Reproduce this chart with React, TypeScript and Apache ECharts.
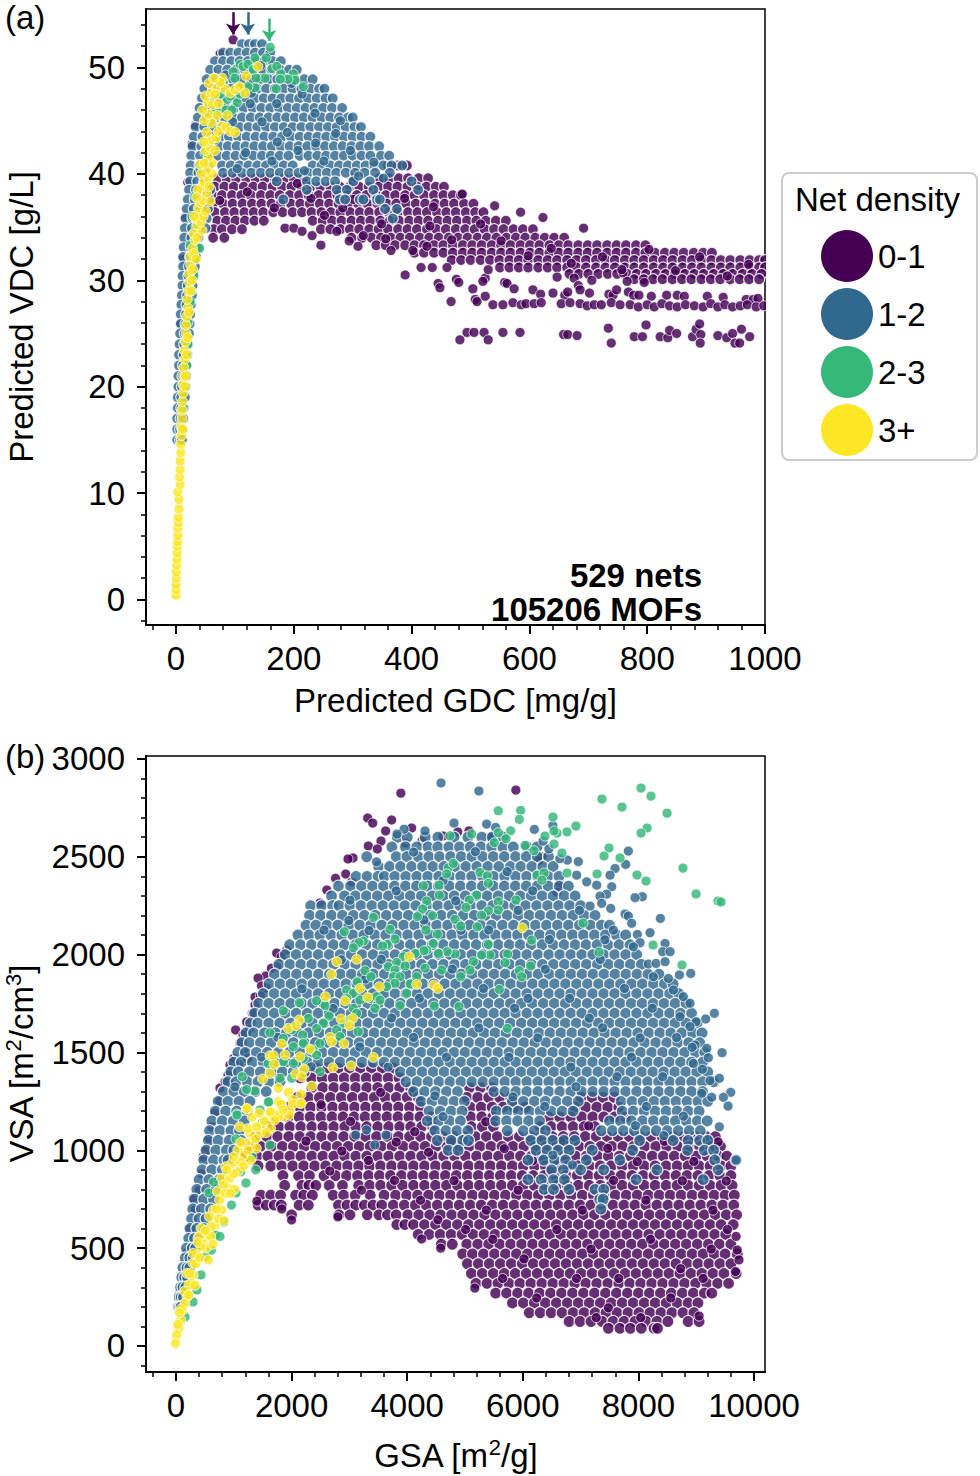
// App.tsx — predicted VDC vs GDC and VSA vs GSA scatter, coloured by net density
import { useEffect, useRef } from "react";
import * as echarts from "echarts";

const FONT = "Liberation Sans, Arial, sans-serif";
const PURPLE = "#440154";
const BLUE = "#31688e";
const GREEN = "#35b779";
const YELLOW = "#fde725";
const NETS = ["0-1", "1-2", "2-3", "3+"];

const xTicksA = [0, 200, 400, 600, 800, 1000];
const yTicksA = [0, 10, 20, 30, 40, 50];
const xTicksB = [0, 2000, 4000, 6000, 8000, 10000];
const yTicksB = [0, 500, 1000, 1500, 2000, 2500, 3000];
const xMinorA = [-40, 40, 80, 120, 160, 240, 280, 320, 360, 440, 480, 520, 560, 640, 680, 720, 760, 840, 880, 920, 960];
const yMinorA = [-2, 2, 4, 6, 8, 12, 14, 16, 18, 22, 24, 26, 28, 32, 34, 36, 38, 42, 44, 46, 48, 52, 54];
const xMinorB = [-400, 400, 800, 1200, 1600, 2400, 2800, 3200, 3600, 4400, 4800, 5200, 5600, 6400, 6800, 7200, 7600, 8400, 8800, 9200, 9600];
const yMinorB = [-100, 100, 200, 300, 400, 600, 700, 800, 900, 1100, 1200, 1300, 1400, 1600, 1700, 1800, 1900, 2100, 2200, 2300, 2400, 2600, 2700, 2800, 2900];

// rows are [y, x, x, x, ...]; pairs are [x, y]
const purpleRowsA = [
  [40.8, 360, 376, 392],
  [39.6, 70, 86, 102, 119, 135, 151, 168, 184, 200, 216, 300, 345, 362, 378, 394, 412, 428],
  [38.8, 66, 82, 98, 115, 131, 147, 164, 180, 196, 213, 229, 245, 262, 278, 295, 311, 327, 344, 360, 376, 393, 409, 425, 441, 455],
  [38.0, 62, 78, 95, 111, 127, 144, 160, 176, 193, 209, 225, 242, 258, 274, 291, 307, 323, 340, 356, 372, 389, 405, 421, 438, 454, 470, 484],
  [37.2, 63, 80, 96, 113, 129, 145, 162, 178, 195, 211, 227, 244, 260, 276, 293, 309, 325, 342, 358, 374, 391, 407, 423, 440, 456, 472, 489, 505],
  [36.4, 66, 83, 99, 116, 132, 148, 165, 181, 198, 214, 230, 247, 263, 279, 296, 312, 328, 345, 361, 377, 394, 410, 426, 443, 459, 475, 492, 508, 522],
  [35.6, 70, 85, 101, 117, 133, 149, 232, 249, 265, 281, 298, 314, 330, 347, 363, 379, 396, 412, 428, 445, 461, 477, 494, 510, 526, 543, 560],
  [34.8, 64, 78, 95, 112, 246, 262, 279, 295, 311, 328, 344, 360, 377, 393, 409, 426, 442, 458, 475, 491, 507, 524, 540, 556, 573, 589, 606],
  [34.0, 63, 82, 298, 316, 332, 348, 365, 381, 397, 414, 430, 446, 463, 479, 495, 512, 528, 544, 561, 577, 593, 610, 626, 642, 659],
  [33.3, 340, 356, 372, 389, 405, 421, 438, 454, 470, 487, 503, 519, 536, 552, 568, 585, 601, 617, 634, 650, 666, 683, 699, 715, 732, 748, 764, 781, 797],
  [32.6, 405, 421, 438, 454, 470, 487, 503, 519, 536, 552, 568, 585, 601, 617, 634, 650, 666, 683, 699, 715, 732, 748, 764, 781, 797, 813, 830, 846, 862, 879, 895, 910],
  [31.9, 468, 484, 500, 517, 533, 549, 566, 582, 598, 615, 631, 647, 664, 680, 696, 713, 729, 745, 762, 778, 794, 811, 827, 843, 860, 876, 892, 909, 925, 941, 958, 974, 990, 1000],
  [31.2, 550, 566, 582, 598, 615, 631, 647, 664, 680, 696, 713, 729, 745, 762, 778, 794, 811, 827, 843, 860, 876, 892, 909, 925, 941, 958, 974, 990, 1000],
  [30.6, 668, 684, 700, 717, 733, 749, 766, 782, 798, 815, 831, 847, 864, 880, 896, 913, 929, 945, 962, 978, 994],
  [30.1, 778, 794, 810, 826, 843, 859, 875, 892, 908, 924, 941, 957, 973, 990],
];
const purplePairsA = [
  [97, 52.6], [75, 51.3], [33, 44.6], [27, 42.8], [20, 39.2], [16, 36], [12, 32], [8, 26], [185, 34.9], [200, 34.9], [214, 34.6], [231, 34.2],
  [246, 33.3], [273, 34.6], [294, 33.7], [309, 33.2], [318, 34.2], [365, 32.8], [402, 32.8], [426, 33.2], [623, 35.9], [692, 34.9], [585, 36.4],
  [541, 37], [486, 38.1], [389, 30.5], [416, 31.2], [435, 31.2], [460, 31.2], [445, 29.7], [448, 29.3], [476, 30.1], [480, 29.8], [504, 29.2], [525, 30.2],
  [521, 29.9], [530, 31], [558, 29.8], [562, 29.7], [574, 29.2], [647, 30.3], [676, 30.2], [683, 29.5], [686, 29.1], [706, 30], [759, 30.7], [766, 29.9], [795, 29.8],
  [606, 29.1], [619, 28.7], [640, 28.8], [660, 28.6], [665, 28.9], [702, 28.8], [735, 28.7], [742, 28.6], [748, 29.1], [768, 28.9], [777, 28.6], [786, 28.6],
  [807, 28.5], [833, 28.6], [851, 28.6], [863, 28.5], [902, 28.5], [929, 28.4], [968, 28.2], [980, 28.2], [988, 28.3],
  [467, 28], [508, 28.2], [511, 28], [525, 28.5], [538, 27.7], [555, 27.7], [572, 27.9], [586, 27.7], [594, 27.8], [608, 27.8], [620, 27.9], [654, 27.8], [669, 27.9],
  [686, 27.8], [698, 27.6], [710, 27.7], [722, 27.7], [739, 27.9], [754, 27.7], [771, 27.7], [785, 27.5], [800, 27.7], [812, 27.5], [825, 27.8], [838, 27.6], [851, 27.5],
  [865, 27.7], [880, 27.6], [895, 27.5], [908, 27.8], [920, 27.5], [932, 27.7], [945, 27.5], [958, 27.6], [970, 27.7], [985, 27.5], [998, 27.6],
  [482, 24.4], [494, 25.1], [506, 25.1], [523, 25.1], [530, 24.4], [555, 25.1], [584, 25.1], [658, 24.9], [665, 24.9], [681, 24.8], [734, 25.5], [739, 24.1], [778, 24.7],
  [792, 24.7], [798, 25.8], [822, 24.7], [835, 24.6], [838, 25.3], [850, 25], [877, 24.7], [883, 25.4], [889, 25.9], [891, 24.9], [890, 24.1], [920, 24.8], [935, 24.6],
  [945, 25], [960, 25.4], [949, 24.1], [957, 24.1], [974, 24.7],
  [74, 37.5], [121, 38.3], [167, 36.8], [206, 39.1], [252, 36.1], [301, 37.6], [349, 35.3], [388, 37.7], [431, 35.1], [468, 33.8], [517, 35.3], [552, 33.7], [598, 32.3],
  [637, 33], [671, 31.6], [724, 32.2], [757, 31], [803, 32.9], [848, 30.9], [889, 32.2], [936, 30.4], [972, 31.5], [437, 36.9], [356, 33.9], [283, 36.8], [229, 37.7],
];
const blueRowsA = [
  [52.2, 112, 124, 134, 146],
  [51.4, 80, 92, 106, 120, 134, 148, 160],
  [50.6, 66, 80, 94, 108, 122, 136, 150, 164, 178],
  [49.8, 58, 72, 87, 102, 117, 132, 147, 162, 177, 192, 205],
  [48.9, 52, 67, 82, 97, 112, 127, 142, 157, 172, 187, 202, 218, 232],
  [48.0, 48, 63, 78, 93, 108, 123, 138, 153, 168, 183, 198, 213, 228, 243, 252],
  [47.1, 44, 59, 74, 89, 104, 119, 134, 149, 164, 179, 194, 209, 224, 239, 254, 266],
  [46.2, 40, 55, 70, 85, 100, 115, 130, 145, 160, 175, 190, 205, 220, 235, 250, 265, 282],
  [45.3, 37, 52, 67, 82, 97, 112, 127, 142, 157, 172, 187, 202, 217, 232, 247, 262, 277, 292, 300],
  [44.4, 33, 48, 63, 78, 93, 108, 123, 138, 153, 168, 183, 198, 213, 228, 243, 258, 273, 288, 303, 314],
  [43.5, 30, 45, 60, 75, 90, 105, 120, 135, 150, 165, 180, 195, 210, 225, 240, 255, 270, 285, 300, 315, 330],
  [42.6, 28, 43, 58, 73, 88, 103, 118, 133, 148, 163, 178, 193, 208, 223, 238, 253, 268, 283, 298, 313, 328, 345],
  [41.7, 26, 41, 56, 71, 86, 101, 116, 131, 146, 161, 176, 191, 210, 225, 240, 255, 270, 285, 300, 315, 330, 348, 362],
  [40.8, 25, 40, 55, 78, 93, 108, 123, 138, 153, 168, 183, 198, 232, 247, 262, 277, 292, 307, 322, 337, 352, 366, 384],
  [40.1, 24, 38, 50, 80, 96, 112, 128, 144, 160, 176, 192, 208, 224, 240, 256, 272, 288, 304, 320, 338, 363],
  [39.3, 24, 36, 48, 171, 222, 238, 254, 270, 301, 329, 400],
  [38.5, 22, 34, 46, 58, 222, 273, 290, 335, 411],
  [37.6, 20, 32, 44, 56, 182, 278, 287, 312, 318, 341, 346],
  [36.7, 18, 30, 42, 54, 355, 375],
  [35.8, 16, 28, 40, 52, 368],
  [34.9, 15, 27, 39, 50],
  [34.0, 14, 26, 38],
  [33.1, 13, 25, 37],
  [32.2, 12, 24, 34],
  [31.3, 12, 22, 32],
  [30.4, 11, 21, 30],
  [29.5, 11, 20, 28],
  [28.6, 10, 19, 27],
  [27.7, 9, 18, 25],
  [26.8, 8, 17, 24],
  [25.9, 8, 16, 23],
  [25, 7, 15, 22],
  [24, 6, 14, 20],
  [23, 5, 13, 19],
  [22, 5, 12, 18],
  [21, 4, 11, 17],
  [20, 4, 10, 16],
  [19, 3, 9, 15],
  [18, 3, 9, 13],
  [17, 2, 8, 12],
  [16, 2, 7, 11],
  [15, 2, 7, 10],
];
const bluePairsA = [
  [84, 49.3], [128, 47.6], [171, 46.6], [214, 47.5], [96, 44.9], [146, 44.9], [189, 43.9], [236, 45.7], [271, 43.8], [118, 42], [163, 41.2], [207, 42.2], [251, 41.2], [296, 42.2],
  [336, 41.1], [144, 50.2], [196, 48.5], [237, 42.9], [279, 45], [172, 43], [104, 40.5], [218, 40.3], [310, 39.8], [352, 39.6], [126, 46.6],
];
const greenPairsA = [
  [160, 51.9], [134, 50.9], [153, 50.9], [109, 50.3], [114, 50.1], [122, 50.3], [97, 49.6], [131, 49.8], [163, 49.9], [171, 50.1], [178, 49.4], [199, 49.4],
  [202, 48.8], [216, 48.2], [190, 48.9], [177, 48.9], [151, 49], [136, 49], [170, 48], [134, 48.1], [122, 48.2], [104, 46.7], [87, 47], [92, 47.3], [75, 47.5],
  [66, 45.9], [75, 45.8], [109, 47.5], [66, 43.2], [49, 42], [41, 40.4], [32, 37.9], [27, 36], [24, 33.3], [32, 32], [26, 29], [20, 26], [18, 22], [12, 18],
  [30, 30.5], [40, 33], [42, 36], [53, 41], [60, 45], [85, 46], [95, 46], [80, 48.6], [100, 49], [34, 35], [24, 28], [20, 24],
];
const yellowPairsA = [
  [0, 0.4], [0, 0.9], [0, 1.4], [0.5, 2], [0.5, 2.6], [1, 3.2], [1.5, 3.8], [2, 4.4], [2, 5], [2.5, 5.4], [3, 6], [3, 6.7], [4, 7.2], [4, 7.7], [5, 8.5], [5, 9.4],
  [3, 10.1], [7, 10.8], [6, 11.5], [7, 12.2], [7, 13], [8, 13.8], [8, 14.6], [9, 15.4], [9, 16.2], [10, 17], [10, 17.8], [11, 18.6], [12, 19.4], [12, 20.2], [13, 21],
  [13, 21.8], [15, 22.6], [14, 23.4], [16, 24.2], [17, 25], [17, 25.8], [18, 26.6], [20, 27.4], [19, 28.2], [21, 29], [23, 29.8], [22, 30.6], [25, 31.4], [24, 32.2],
  [28, 33], [32, 33.8], [30, 34.4], [44, 34.7], [36, 35.2], [34, 35.8], [40, 36.2], [38, 36.8], [41, 37.3], [46, 37.5], [52, 38.2], [44, 38.8], [48, 39.2], [55, 39.6],
  [61, 40], [52, 40.3], [41, 40.9], [61, 41], [55, 41.6], [50, 42.2], [58, 42.5], [66, 42.2], [52, 43], [60, 43.2], [68, 43.4], [52, 43.9], [78, 44.5], [72, 44],
  [85, 44.4], [92, 44], [100, 43.9], [60, 44.8], [48, 45], [55, 45.6], [87, 45.5], [45, 46], [54, 46.7], [62, 46.5], [50, 47.3], [60, 47.6], [68, 48], [83, 48],
  [92, 47.6], [100, 47.9], [108, 48.2], [117, 47.6], [78, 49], [119, 49.2], [139, 50.1],
  [16, 21], [18, 23], [20, 24.6], [22, 27], [25, 29], [28, 31], [30, 32.5], [34, 32], [36, 34], [42, 35.5], [46, 36], [37, 38.5], [43, 40], [48, 41], [56, 38.8], [47, 43],
  [70, 45.5], [66, 47.5], [56, 48.5], [72, 46.6], [75, 48.6], [64, 49], [11, 16], [15, 20], [27, 30], [31, 36], [35, 37.8], [50, 36.5], [58, 37.4],
];

const purpleRowsB = [
  [1420, 2430, 2620, 2810, 3000, 3190, 3380, 3570, 3760],
  [1370, 2150, 2340, 2530, 2720, 2910, 3100, 3290, 3480, 3670, 3860],
  [1320, 2350, 2540, 2730, 2920, 3110, 3300, 3490, 3680, 3870, 4060, 5080, 5270, 5460],
  [1270, 2100, 2290, 2480, 2670, 2860, 3050, 3240, 3430, 3620, 3810, 4000, 4190, 5030, 5220, 5410, 5600, 5790, 7010, 7200, 7390, 7580],
  [1220, 1950, 2140, 2330, 2520, 2710, 2900, 3090, 3280, 3470, 3660, 3850, 4040, 4230, 5090, 5280, 5470, 5660, 5850, 6040, 6900, 7090, 7280, 7470, 7660],
  [1170, 1750, 1940, 2130, 2320, 2510, 2700, 2890, 3080, 3270, 3460, 3650, 3840, 4030, 4220, 4410, 5100, 5290, 5480, 6450, 6640, 6830, 7020, 7210, 7400, 7590, 7780],
  [1120, 1590, 1780, 1970, 2160, 2350, 2540, 2730, 2920, 3110, 3300, 3490, 3680, 3870, 4060, 4250, 4440, 5110, 5300, 5490, 6300, 6490, 6680, 6870, 7060, 7250],
  [1070, 1380, 1570, 1760, 1950, 2140, 2330, 2520, 2710, 2900, 3090, 3280, 3470, 3660, 3850, 4040, 4230, 4420, 4610, 4800, 4990, 5180, 5370, 5560, 5750, 5940, 6130, 6320, 6510, 6700, 6890, 7080, 7270, 7460, 7650, 7840, 8030, 8220, 8410, 8600, 8790, 8980, 9170, 9330],
  [1020, 1270, 1460, 1650, 1840, 2030, 2220, 2410, 2600, 2790, 2980, 3170, 3360, 3550, 3740, 3930, 4120, 4310, 4500, 4690, 4880, 5070, 5260, 5450, 5640, 5830, 6020, 6210, 6400, 6590, 6780, 6970, 7160, 7350, 7540, 7730, 7920, 8110, 8300, 8490, 8680, 8870, 9060, 9250, 9420],
  [970, 1210, 1400, 1590, 1780, 1970, 2160, 2350, 2540, 2730, 2920, 3110, 3300, 3490, 3680, 3870, 4060, 4250, 4440, 4630, 4820, 5010, 5200, 5390, 5580, 5770, 5960, 6150, 6340, 6530, 6720, 6910, 7100, 7290, 7480, 7670, 7860, 8050, 8240, 8430, 8620, 8810, 9000, 9190, 9380, 9530],
  [920, 1420, 1640, 1830, 2020, 2210, 2400, 2590, 2780, 2970, 3160, 3350, 3540, 3730, 3920, 4110, 4300, 4490, 4680, 4870, 5060, 5250, 5440, 5630, 5820, 6010, 6200, 6390, 6580, 6770, 6960, 7150, 7340, 7530, 7720, 7910, 8100, 8290, 8480, 8670, 8860, 9050, 9240, 9430, 9600],
  [870, 1850, 2120, 2310, 2560, 2760, 2950, 3140, 3330, 3520, 3710, 3900, 4090, 4280, 4470, 4660, 4850, 5040, 5230, 5420, 5610, 5800, 5990, 6180, 6370, 6560, 6750, 6940, 7130, 7320, 7510, 7700, 7890, 8080, 8270, 8460, 8650, 8840, 9030, 9220, 9410, 9600],
  [820, 1880, 2180, 2300, 2420, 2650, 2880, 3160, 3350, 3540, 3730, 3920, 4110, 4300, 4490, 4680, 4870, 5060, 5250, 5440, 5630, 5820, 6010, 6200, 6390, 6580, 6770, 6960, 7150, 7340, 7530, 7720, 7910, 8100, 8290, 8480, 8670, 8860, 9050, 9240, 9430, 9620],
  [770, 1470, 1640, 1810, 2070, 2210, 2360, 2720, 2900, 3100, 3360, 3600, 3800, 3990, 4180, 4370, 4560, 4750, 4940, 5130, 5320, 5510, 5700, 5890, 6080, 6270, 6460, 6650, 6840, 7030, 7220, 7410, 7600, 7790, 7980, 8170, 8360, 8550, 8740, 8930, 9120, 9310, 9500, 9660],
  [720, 1420, 1560, 1700, 1820, 2130, 2290, 2810, 2960, 3110, 3260, 3410, 3560, 3760, 3950, 4140, 4330, 4520, 4710, 4900, 5090, 5280, 5470, 5660, 5850, 6040, 6230, 6420, 6610, 6800, 6990, 7180, 7370, 7560, 7750, 7940, 8130, 8320, 8510, 8700, 8890, 9080, 9270, 9460, 9650],
  [670, 2000, 2820, 3010, 3310, 3510, 3660, 3810, 4010, 4200, 4390, 4580, 4770, 4960, 5150, 5340, 5530, 5720, 5910, 6100, 6290, 6480, 6670, 6860, 7050, 7240, 7430, 7620, 7810, 8000, 8190, 8380, 8570, 8760, 8950, 9140, 9330, 9520, 9700],
  [620, 3820, 3960, 4110, 4300, 4490, 4680, 4870, 5060, 5250, 5440, 5630, 5820, 6010, 6200, 6390, 6580, 6770, 6960, 7150, 7340, 7530, 7720, 7910, 8100, 8290, 8480, 8670, 8860, 9050, 9240, 9430, 9640],
  [570, 4190, 4380, 4570, 4760, 4950, 5140, 5330, 5520, 5710, 5900, 6090, 6280, 6470, 6660, 6850, 7040, 7230, 7420, 7610, 7800, 7990, 8180, 8370, 8560, 8750, 8940, 9130, 9320, 9510],
  [520, 4590, 4780, 5030, 5220, 5410, 5600, 5790, 5980, 6170, 6360, 6550, 6740, 6930, 7120, 7310, 7500, 7690, 7880, 8070, 8260, 8450, 8640, 8830, 9020, 9210, 9400, 9600],
  [470, 4960, 5130, 5320, 5510, 5700, 5890, 6080, 6270, 6460, 6650, 6840, 7030, 7220, 7410, 7600, 7790, 7980, 8170, 8360, 8550, 8740, 8930, 9120, 9310, 9500, 9710],
  [420, 5040, 5230, 5420, 5610, 5800, 5990, 6180, 6370, 6560, 6750, 6940, 7130, 7320, 7510, 7700, 7890, 8080, 8270, 8460, 8650, 8840, 9030, 9220, 9410, 9600],
  [370, 5110, 5300, 5490, 5680, 5870, 6060, 6250, 6440, 6630, 6820, 7010, 7200, 7390, 7580, 7770, 7960, 8150, 8340, 8530, 8720, 8910, 9100, 9290, 9480, 9690],
  [320, 5190, 5380, 5570, 5760, 5950, 6140, 6330, 6520, 6710, 6900, 7090, 7280, 7470, 7660, 7850, 8040, 8230, 8420, 8610, 8800, 8990, 9180, 9370, 9560],
  [270, 5530, 5720, 5910, 6100, 6290, 6480, 6670, 6860, 7050, 7240, 7430, 7620, 7810, 8000, 8190, 8380, 8570, 8760, 8950, 9140, 9270],
  [220, 5820, 6010, 6200, 6390, 6580, 6770, 6960, 7150, 7340, 7530, 7720, 7910, 8100, 8290, 8480, 8670, 8860, 9030],
  [170, 6110, 6300, 6490, 6680, 6870, 7060, 7250, 7440, 7630, 7820, 8010, 8200, 8390, 8580, 8770, 8960],
  [125, 6800, 6990, 7180, 7370, 7560, 7750, 7940, 8130, 8320, 8510, 8860, 9050],
  [90, 7480, 7680, 7860, 8050, 8270, 8330],
];
const purplePairsB = [
  [3316, 2698], [3403, 2672], [3731, 2688], [3627, 2632], [4077, 2647], [3547, 2580], [3327, 2555], [3483, 2540], [3962, 2570], [4256, 2580], [4620, 2606], [4874, 2627],
  [5069, 2632], [5420, 2601], [3062, 2494], [2976, 2489], [2936, 2412], [3040, 2371], [2491, 2264], [1742, 2008], [1915, 2024], [1742, 1937], [1557, 1891], [1420, 1880],
  [1569, 1829], [1367, 1783], [1367, 1742], [1460, 1790], [1223, 1656], [1032, 1615], [1107, 1548], [1270, 1620], [1160, 1590], [934, 1436], [900, 1385], [1000, 1470], [761, 1318],
  [850, 1350], [675, 1190], [760, 1250], [620, 1120], [570, 1060], [520, 1000], [467, 966], [440, 880], [400, 800], [340, 700], [294, 756], [250, 600], [200, 480], [130, 330], [62, 271],
  [3890, 2825], [5880, 2841], [6330, 2500], [6270, 2480], [6640, 2360], [6590, 2320], [1400, 740], [1830, 700], [2000, 644], [2800, 660], [4250, 547], [4580, 500], [5170, 296], [9050, 153],
  [9710, 490], [9690, 560], [9740, 440], [9680, 380], [1180, 1520], [1080, 1440], [1320, 1700], [1480, 1840], [1650, 1930], [1820, 1990], [2610, 2330], [2760, 2390], [1240, 1470],
  [2510, 1233], [3020, 1148], [3540, 1296], [4130, 1095], [2250, 1047], [2870, 996], [3330, 948], [3810, 1042], [4370, 990], [4760, 1044], [5360, 1146], [5680, 1008], [6170, 946],
  [6660, 1046], [7140, 1125], [7470, 1010], [7980, 942], [8450, 1046], [8960, 943], [9380, 1043], [2660, 894], [3210, 796], [3780, 846], [4230, 745], [4810, 845], [5370, 694], [5920, 796],
  [6480, 894], [7030, 694], [7570, 846], [8130, 745], [8760, 844], [9290, 694], [9520, 843], [5480, 545], [6020, 445], [6590, 595], [7180, 495], [7660, 345], [8210, 545], [8730, 395],
  [9260, 495], [9540, 595], [5650, 345], [6240, 245], [6930, 345], [7480, 195], [8040, 145], [8560, 245], [7270, 145], [9120, 345], [4530, 645], [5010, 595],
];
const blueRowsB = [
  [2600, 3830, 4000, 4310, 4530, 4810, 5050, 5290, 5470, 5660],
  [2550, 3735, 3970, 4165, 4360, 4530, 4720, 4905, 5090, 5275, 5460, 5655, 5835, 6075, 6245],
  [2500, 3300, 3810, 3995, 4190, 4375, 4560, 4750, 4935, 5120, 5305, 5490, 5680, 5875, 6060, 6250, 6445],
  [2450, 3505, 3695, 3885, 4075, 4265, 4445, 4635, 4825, 5015, 5205, 5395, 5585, 5785, 5965, 6155, 6345, 6525],
  [2400, 3115, 3305, 3495, 3605, 3785, 3975, 4165, 4355, 4545, 4735, 4925, 5115, 5305, 5495, 5685, 5875, 6065, 6255, 6435, 6625],
  [2350, 2810, 3020, 3210, 3400, 3590, 3780, 3970, 4160, 4350, 4540, 4730, 4920, 5110, 5300, 5490, 5680, 5870, 6060, 6250, 6440, 6630, 6790],
  [2300, 2690, 2915, 3105, 3295, 3485, 3675, 3865, 4055, 4245, 4435, 4625, 4815, 5005, 5195, 5385, 5575, 5765, 5955, 6145, 6335, 6525, 6715, 6905],
  [2250, 2330, 2520, 2710, 2820, 3010, 3200, 3390, 3580, 3770, 3960, 4150, 4340, 4530, 4720, 4910, 5100, 5290, 5480, 5670, 5860, 6050, 6240, 6430, 6620, 6810, 7000],
  [2200, 2310, 2500, 2690, 2880, 3070, 3260, 3450, 3640, 3830, 4020, 4210, 4400, 4590, 4780, 4970, 5160, 5350, 5540, 5730, 5920, 6110, 6300, 6490, 6680, 6870, 7060, 7250],
  [2150, 2250, 2420, 2610, 2800, 2990, 3180, 3370, 3560, 3750, 3940, 4130, 4320, 4510, 4700, 4890, 5080, 5270, 5460, 5650, 5840, 6030, 6220, 6410, 6600, 6790, 6980, 7170, 7360, 7500],
  [2100, 2110, 2300, 2490, 2680, 2870, 3060, 3250, 3440, 3630, 3820, 4010, 4200, 4390, 4580, 4770, 4960, 5150, 5340, 5530, 5720, 5910, 6100, 6290, 6480, 6670, 6860, 7050, 7240, 7430, 7620, 7780],
  [2050, 1965, 2155, 2345, 2535, 2725, 2915, 3105, 3295, 3485, 3675, 3865, 4055, 4245, 4435, 4625, 4815, 5005, 5195, 5385, 5575, 5765, 5955, 6145, 6335, 6525, 6715, 6905, 7095, 7285, 7475, 7665, 7855],
  [2000, 1890, 2080, 2270, 2460, 2650, 2840, 3030, 3220, 3410, 3600, 3790, 3980, 4170, 4360, 4550, 4740, 4930, 5120, 5310, 5500, 5690, 5880, 6070, 6260, 6450, 6640, 6830, 7020, 7210, 7400, 7590, 7780, 7970],
  [1950, 1780, 1970, 2160, 2350, 2540, 2730, 2920, 3110, 3300, 3490, 3680, 3870, 4060, 4250, 4440, 4630, 4820, 5010, 5200, 5390, 5580, 5770, 5960, 6150, 6340, 6530, 6720, 6910, 7100, 7290, 7480, 7670, 7860, 8050],
  [1900, 1705, 1895, 2085, 2275, 2465, 2655, 2845, 3035, 3225, 3415, 3605, 3795, 3985, 4175, 4365, 4555, 4745, 4935, 5125, 5315, 5505, 5695, 5885, 6075, 6265, 6455, 6645, 6835, 7025, 7215, 7405, 7595, 7785, 7975, 8165, 8355],
  [1850, 1610, 1800, 1990, 2180, 2370, 2560, 2750, 2940, 3130, 3320, 3510, 3700, 3890, 4080, 4270, 4460, 4650, 4840, 5030, 5220, 5410, 5600, 5790, 5980, 6170, 6360, 6550, 6740, 6930, 7120, 7310, 7500, 7690, 7880, 8070, 8260, 8450, 8600],
  [1800, 1510, 1700, 1890, 2080, 2270, 2460, 2650, 2840, 3030, 3220, 3410, 3600, 3790, 3980, 4170, 4360, 4550, 4740, 4930, 5120, 5310, 5500, 5690, 5880, 6070, 6260, 6450, 6640, 6830, 7020, 7210, 7400, 7590, 7780, 7970, 8160, 8350, 8540, 8700],
  [1750, 1430, 1605, 1795, 1985, 2175, 2365, 2555, 2745, 2935, 3125, 3315, 3505, 3695, 3885, 4075, 4265, 4455, 4645, 4835, 5025, 5215, 5405, 5595, 5785, 5975, 6165, 6355, 6545, 6735, 6925, 7115, 7305, 7495, 7685, 7875, 8065, 8255, 8445, 8635, 8825],
  [1700, 1360, 1510, 1700, 1890, 2080, 2270, 2460, 2650, 2840, 3030, 3220, 3410, 3600, 3790, 3980, 4170, 4360, 4550, 4740, 4930, 5120, 5310, 5500, 5690, 5880, 6070, 6260, 6450, 6640, 6830, 7020, 7210, 7400, 7590, 7780, 7970, 8160, 8350, 8540, 8730, 8920],
  [1650, 1290, 1415, 1605, 1795, 1985, 2175, 2365, 2555, 2745, 2935, 3125, 3315, 3505, 3695, 3885, 4075, 4265, 4455, 4645, 4835, 5025, 5215, 5405, 5595, 5785, 5975, 6165, 6355, 6545, 6735, 6925, 7115, 7305, 7495, 7685, 7875, 8065, 8255, 8445, 8635, 8825, 9015],
  [1600, 1210, 1340, 1530, 1720, 1910, 2100, 2290, 2480, 2670, 2860, 3050, 3240, 3430, 3620, 3810, 4000, 4190, 4380, 4570, 4760, 4950, 5140, 5330, 5520, 5710, 5900, 6090, 6280, 6470, 6660, 6850, 7040, 7230, 7420, 7610, 7800, 7990, 8180, 8370, 8560, 8750, 8940, 9100],
  [1550, 1140, 1270, 1460, 1650, 1840, 2030, 2220, 2410, 2600, 2790, 2980, 3170, 3360, 3550, 3740, 3930, 4120, 4310, 4500, 4690, 4880, 5070, 5260, 5450, 5640, 5830, 6020, 6210, 6400, 6590, 6780, 6970, 7160, 7350, 7540, 7730, 7920, 8110, 8300, 8490, 8680, 8870, 9060],
  [1500, 1070, 1200, 1390, 1580, 1770, 1960, 2150, 2340, 2530, 2720, 2910, 3100, 3290, 3480, 3670, 3860, 4050, 4240, 4430, 4620, 4810, 5000, 5190, 5380, 5570, 5760, 5950, 6140, 6330, 6520, 6710, 6900, 7090, 7280, 7470, 7660, 7850, 8040, 8230, 8420, 8610, 8800, 8990, 9150],
  [1450, 1000, 1130, 1320, 1510, 1700, 1890, 2080, 2270, 2460, 2650, 2840, 3030, 3220, 3410, 3600, 3790, 3980, 4170, 4360, 4550, 4740, 4930, 5120, 5310, 5500, 5690, 5880, 6070, 6260, 6450, 6640, 6830, 7020, 7210, 7400, 7590, 7780, 7970, 8160, 8350, 8540, 8730, 8920, 9110],
  [1400, 950, 1080, 1270, 1460, 1650, 1840, 2030, 2220, 3880, 4070, 4260, 4450, 4640, 4830, 5020, 5210, 5400, 5590, 5780, 5970, 6160, 6350, 6540, 6730, 6920, 7110, 7300, 7490, 7680, 7870, 8060, 8250, 8440, 8630, 8820, 9010, 9200],
  [1350, 900, 1040, 1230, 1420, 1610, 1800, 3980, 4170, 4360, 4550, 4740, 4930, 5120, 5310, 5500, 5690, 5880, 6070, 6260, 6450, 6640, 6830, 7020, 7210, 7400, 7590, 7780, 7970, 8160, 8350, 8540, 8730, 8920, 9110, 9300],
  [1300, 820, 1000, 1180, 1370, 1560, 4110, 4300, 4490, 4680, 4870, 5500, 5690, 5880, 6070, 6260, 6450, 6640, 6830, 7020, 7210, 7400, 7590, 7780, 7970, 8160, 8350, 8540, 8730, 8920, 9110],
  [1250, 730, 900, 1090, 1280, 4240, 4430, 4620, 4810, 4990, 5820, 6010, 6200, 6390, 6580, 6770, 6960, 7700, 7890, 8080, 8270, 8460, 8650, 8840, 9030, 9200],
  [1200, 680, 860, 1050, 1230, 4380, 4570, 4760, 4950, 5540, 5730, 5920, 6110, 6300, 6490, 6680, 6870, 7720, 7910, 8100, 8290, 8480, 8670, 8860, 9050],
  [1150, 620, 800, 990, 1180, 4350, 4540, 4730, 4920, 5530, 5720, 5910, 6100, 6290, 7500, 7690, 7880, 8070, 8260, 8450, 8640, 8830, 9020, 9190],
  [1100, 580, 760, 950, 1100, 4480, 4670, 4860, 5050, 5730, 6010, 6200, 6390, 7360, 7550, 7740, 7930, 8120, 8310, 8500, 8690, 8880, 9070],
  [1050, 560, 730, 920, 1130, 4520, 4760, 4960, 5060, 6140, 6330, 6520, 6710, 6900, 8020, 8600, 8860, 9060, 9200],
  [1000, 520, 690, 870, 1000, 4710, 4880, 6230, 6420, 6610, 6800, 7200, 7900, 8850, 9140, 9300],
  [950, 480, 650, 830, 900, 6090, 6360, 6550, 6740, 7100, 7680, 9320, 9690],
  [900, 450, 620, 800, 6500, 6700, 7000, 7400, 8320, 9380],
  [850, 400, 570, 750, 6090, 6320, 6530, 6720, 7960, 9120],
  [800, 360, 530, 700, 6370, 6530, 6800, 7250, 7400],
  [750, 320, 480, 650, 7330, 7390],
  [700, 290, 440, 600, 7350],
  [650, 270, 400, 520],
  [600, 240, 360, 480],
  [550, 220, 320, 400],
  [500, 180, 280, 340],
  [450, 160, 240, 300],
  [400, 120, 190, 240],
  [350, 100, 150, 200],
  [300, 80, 120, 170],
  [250, 55, 90, 130],
  [200, 40, 65, 90],
];
const bluePairsB = [
  [4585, 2877], [5240, 2836], [4810, 2672], [5375, 2667], [3945, 2641], [3824, 2616], [4308, 2632], [5530, 2650], [3110, 1078], [3296, 1104], [3440, 1027], [3633, 1078],
  [7826, 2529], [7780, 2461], [7596, 2440], [7509, 2406], [7538, 2347], [7278, 2355], [7105, 2372], [6932, 2406], [6961, 2475], [6771, 2483], [8068, 2296], [7942, 2291],
  [7451, 2309], [7336, 2299], [7163, 2248], [7521, 2236], [7365, 2262], [7769, 2207], [7826, 2197], [8380, 2185], [8201, 2112], [7982, 2103], [7884, 2160], [7567, 2125],
  [8028, 2061], [7913, 2040], [8461, 2057], [8420, 2015], [8547, 2015], [8172, 1952], [8305, 1955], [8461, 1964], [8905, 1904], [8709, 1896], [8259, 1887], [8518, 1878],
  [8605, 1819], [8778, 1785], [8893, 1751], [9314, 1700], [9164, 1671], [8997, 1657], [8720, 1683], [8893, 1632], [8980, 1538], [9182, 1521], [9210, 1473], [9447, 1499],
  [8951, 1444], [9107, 1414], [9239, 1356], [9401, 1368], [9597, 1296], [9470, 1271], [9551, 1226], [9268, 1271], [9095, 1291], [9690, 950], [9400, 1120],
  [6200, 2640], [6350, 2580], [6450, 2540], [6640, 2490], [6520, 2660],
  [2560, 2125], [3010, 2278], [3470, 2474], [4110, 2524], [4620, 2378], [5180, 2526], [5730, 2424], [6170, 2326], [2860, 1974], [3340, 2123], [3810, 2326], [4290, 2177], [4840, 2275],
  [5410, 2126], [5920, 2226], [6460, 2077], [6980, 2226], [7420, 2076], [2180, 1825], [2720, 1725], [3280, 1875], [3730, 1676], [4210, 1777], [4780, 1926], [5320, 1827], [5860, 1726],
  [6390, 1925], [6810, 1776], [7340, 1975], [7760, 1827], [8240, 1726], [8660, 1576], [1760, 1577], [2340, 1427], [3180, 1528], [3670, 1425], [4110, 1577], [4680, 1476], [5240, 1625],
  [5760, 1475], [6260, 1574], [6830, 1425], [7380, 1626], [7880, 1476], [8420, 1376], [8930, 1526], [4480, 1278], [5830, 1273], [6380, 1224], [6920, 1325], [7630, 1376], [8140, 1224],
  [8780, 1174], [4620, 1172], [7950, 1126], [8440, 1075], [6520, 975], [6860, 925], [2990, 2174], [3550, 1976], [4930, 2124], [6090, 1776], [7150, 1675], [8030, 1574], [1480, 1476], [1020, 1324],
];
const greenPairsB = [
  [4740, 2607], [5115, 2616], [5576, 2735], [5963, 2737], [5940, 2691], [5576, 2623], [5790, 2633], [5709, 2592], [5507, 2572], [6038, 2558], [6193, 2531], [4711, 2444], [4798, 2466],
  [4683, 2412], [5259, 2420], [5386, 2403], [5403, 2364], [4279, 2352], [4550, 2355], [4556, 2304], [5202, 2304], [5075, 2279], [5017, 2241], [4337, 2274], [4267, 2233], [4175, 2194],
  [4440, 2199], [5576, 2270], [5576, 2228], [5882, 2279], [5403, 2224], [5288, 2202], [4827, 2180], [4925, 2146], [5213, 2142], [4325, 2125], [4521, 2105], [3702, 2129], [3414, 2190],
  [2912, 2117], [3241, 2069], [3166, 2062], [3068, 2035], [3789, 2079], [3656, 2052], [3575, 2044], [4452, 2057], [5403, 2052], [6153, 2074], [5738, 2003], [5432, 1998], [5288, 1998],
  [4827, 2003], [4694, 2015], [4538, 2006], [4337, 2023], [4290, 2020], [4135, 2006], [3933, 1989], [3817, 1960], [3673, 1938], [3962, 1942], [4308, 1930], [4596, 1921], [4164, 1887],
  [5144, 1964], [5086, 1921], [4925, 1887], [5692, 1959], [5940, 1918], [6136, 1942], [5980, 1887], [3270, 1918], [3374, 1887], [3789, 1921], [3760, 1887], [3875, 1887], [3137, 1861],
  [2952, 1819], [3068, 1802], [3183, 1768], [3356, 1776], [3472, 1785], [3529, 1768], [3443, 1725], [3068, 1725], [2952, 1776], [3789, 1853], [3645, 1836], [3991, 1802], [3875, 1739],
  [4469, 1737], [4896, 1734], [4048, 1850], [5594, 1822], [5732, 1623], [2134, 1754], [1857, 1713], [2433, 1764], [2578, 1739], [2289, 1674], [2647, 1686], [3125, 1700], [3010, 1666],
  [2895, 1649], [2780, 1615], [2837, 1581], [3154, 1606], [2549, 1649], [2433, 1623], [1626, 1601], [2001, 1615], [2191, 1589], [1857, 1572], [2030, 1529], [2203, 1546], [2376, 1512],
  [2491, 1546], [1597, 1444], [1857, 1453], [2030, 1444], [2203, 1470], [2491, 1402], [1799, 1368], [2001, 1368], [1366, 1303], [1222, 1311], [1147, 1376], [1597, 1248], [1453, 1206],
  [1049, 1185], [2433, 1487], [1055, 1180], [1602, 1247], [1488, 1139], [1038, 1058], [1626, 1027], [1315, 966], [1211, 833], [649, 838], [1038, 782], [571, 782], [830, 634], [683, 567],
  [612, 490], [433, 363], [294, 225], [502, 455], [363, 286], [156, 148], [1380, 900], [1120, 890], [960, 720], [760, 560],
  [8045, 2851], [8218, 2810], [7370, 2795], [7716, 2754], [8495, 2723], [8150, 2647], [8045, 2621], [7491, 2545], [7405, 2504], [7682, 2494], [8771, 2442], [7976, 2407], [8131, 2376],
  [7284, 2412], [8997, 2310], [9377, 2274], [9429, 2269], [8253, 2049], [8754, 1947], [7318, 2013], [7042, 2161], [6765, 2417], [6920, 2657], [6522, 2703], [6765, 2627], [6592, 2621],
  [6540, 2632], [6384, 2606], [6540, 2565], [6678, 2519], [6246, 2407], [6367, 2417], [6332, 2381],
];
const yellowPairsB = [
  [5992, 2137], [2780, 1964], [3125, 1976], [2693, 1899], [4036, 1989], [4164, 1848], [4463, 1844], [4527, 1827], [3518, 1836], [3183, 1827], [3316, 1781], [2924, 1764], [2583, 1785],
  [3056, 1674], [2855, 1671], [2999, 1637], [2134, 1666], [1943, 1623], [2076, 1637], [1828, 1543], [2664, 1577], [2693, 1555], [2906, 1545], [2318, 1516], [1886, 1487], [1626, 1483],
  [1684, 1483], [2145, 1478], [3414, 1475], [3028, 1432], [2711, 1422], [1701, 1439], [2214, 1415], [1626, 1393], [1499, 1364], [2070, 1390], [2174, 1376], [2347, 1328], [1770, 1317],
  [1943, 1296], [2162, 1286], [2018, 1257], [2145, 1240], [1222, 1211], [1770, 1248], [1828, 1231], [1972, 1206], [1626, 1189], [1741, 1180], [1857, 1172], [1227, 1214], [1813, 1237],
  [2025, 1237], [2166, 1240], [1636, 1197], [1777, 1172], [1954, 1180], [1495, 1129], [1636, 1112], [1707, 1155], [1283, 1087], [1460, 1087], [1318, 1044], [1389, 1010], [1071, 1002],
  [1177, 976], [966, 933], [1107, 942], [860, 916], [1071, 891], [789, 857], [930, 857], [895, 806], [718, 789], [754, 746], [648, 695], [789, 695], [577, 661], [683, 618], [436, 601],
  [542, 567], [471, 525], [365, 465], [295, 423], [189, 371], [295, 363], [260, 320], [189, 252], [118, 184], [83, 133], [48, 90], [12, 56], [-9, 14], [401, 559], [612, 610], [295, 474],
  [224, 312], [154, 218], [824, 823], [1001, 967], [1213, 1036], [1848, 1206], [1000, 880], [1250, 1000], [1380, 1060], [1530, 1150], [850, 780], [520, 500],
  [1120, 1040], [1240, 1110], [1390, 1120], [1560, 1090], [1170, 920], [1010, 800], [880, 900], [940, 780], [700, 700], [740, 650], [600, 560], [640, 520], [510, 590], [430, 510], [380, 530],
  [340, 420], [410, 450], [240, 370], [330, 310], [150, 280], [220, 260], [90, 190], [60, 170], [30, 110], [1100, 1120], [1320, 1170], [1440, 1190], [1290, 950], [830, 640], [560, 440],
];

const fromRows = (rows: number[][]) => rows.flatMap(([y, ...xs]) => xs.map((x) => [x, y]));

function scatter(name: string, color: string, axis: number, data: number[][], size = 10, extra = {}) {
  return {
    name, type: "scatter", xAxisIndex: axis, yAxisIndex: axis, data,
    symbol: "circle", symbolSize: size, clip: true, large: false,
    itemStyle: { color, opacity: 0.82, borderColor: "#ffffff", borderWidth: size > 10 ? 1.2 : 0.9 },
    emphasis: { disabled: true },
    ...extra,
  };
}

function arrowMark(color: string, x: number, y0: number, y1: number) {
  return {
    markLine: {
      silent: true, animation: false, symbol: ["none", "arrow"], symbolSize: 11,
      label: { show: false },
      lineStyle: { color, width: 2.5, type: "solid", opacity: 1 },
      data: [[{ coord: [x, y0] }, { coord: [x, y1] }]],
    },
  };
}

function makeAxes(grid: number, kind: "x" | "y", min: number, max: number, ticks: number[], minor: number[], name: unknown, nameGap: number, rich = {}) {
  const position = kind === "x" ? "bottom" : "left";
  const common = { type: "value", gridIndex: grid, min, max, position, splitLine: { show: false } };
  return [
    {
      ...common, name, nameLocation: "middle", nameGap, nameMoveOverlap: false,
      nameTextStyle: { fontFamily: FONT, fontSize: 33, color: "#000", rich },
      axisLine: { show: true, onZero: false, lineStyle: { color: "#000", width: 2 } },
      axisTick: { show: true, length: 9, customValues: ticks, lineStyle: { color: "#000", width: 2 } },
      axisLabel: {
        show: true, customValues: ticks, margin: kind === "x" ? 17 : 21, color: "#000", fontFamily: FONT, fontSize: 33, hideOverlap: false,
        formatter: (v: number) => String(v),
      },
    },
    {
      ...common,
      axisLine: { show: false, onZero: false },
      axisTick: { show: true, length: 5, customValues: minor, lineStyle: { color: "#000", width: 1.5 } },
      axisLabel: { show: false },
    },
  ];
}

export default function App() {
  const ref = useRef<HTMLDivElement>(null);

  useEffect(() => {
    if (!ref.current) return;
    const inst = echarts.init(ref.current, null, { renderer: "svg" });
    const supRich = {
      a: { fontFamily: FONT, fontSize: 33, color: "#000", lineHeight: 38 },
      s: { fontFamily: FONT, fontSize: 22, color: "#000", lineHeight: 38, verticalAlign: "top" },
    };
    const text = (x: number, y: number, t: string, extra = {}) => ({
      type: "text", x, y,
      style: { text: t, fontFamily: FONT, fontSize: 33, fill: "#000", ...extra },
    });

    inst.setOption({
      animation: false,
      backgroundColor: "#fff",
      grid: [
        { left: 146, right: 215, top: 9, height: 616, outerBoundsMode: "none", show: true, borderColor: "#000", borderWidth: 1.5, backgroundColor: "transparent" },
        { left: 146, right: 215, top: 756, height: 616, outerBoundsMode: "none", show: true, borderColor: "#000", borderWidth: 1.5, backgroundColor: "transparent" },
      ],
      xAxis: [
        ...makeAxes(0, "x", -51, 1000, xTicksA, xMinorA, "Predicted GDC [mg/g]", 59),
        ...makeAxes(1, "x", -519, 10190, xTicksB, xMinorB, "{a|GSA [m}{s|2}{a|/g]}", 64, supRich),
      ],
      yAxis: [
        ...makeAxes(0, "y", -2.4, 55.5, yTicksA, yMinorA, "Predicted VDC [g/L]", 108),
        ...makeAxes(1, "y", -133, 3015, yTicksB, yMinorB, "{a|VSA [m}{s|2}{a|/cm}{s|3}{a|]}", 106, supRich),
      ],
      legend: {
        data: NETS, orient: "vertical", left: 821, top: 230, padding: 0,
        itemWidth: 52, itemHeight: 52, itemGap: 6, icon: "circle", selectedMode: false,
        itemStyle: { opacity: 1, borderWidth: 0 },
        textStyle: { fontFamily: FONT, fontSize: 33, color: "#000" },
      },
      graphic: [
        { type: "rect", z: 0, shape: { x: 782, y: 173, width: 195, height: 287, r: 7 }, style: { fill: "#fff", stroke: "#cccccc", lineWidth: 2 } },
        // the reference clips its markers at the frame
        { type: "rect", z: 50, shape: { x: 766, y: 240, width: 12, height: 75 }, style: { fill: "#fff" } },
        text(795, 183, "Net density"),
        text(5, 1, "(a)"),
        text(5, 740, "(b)"),
        text(702, 559, "529 nets", { fontWeight: "bold", textAlign: "right" }),
        text(702, 593, "105206 MOFs", { fontWeight: "bold", textAlign: "right" }),
      ],
      series: [
        scatter(NETS[0], PURPLE, 0, fromRows(purpleRowsA), 11, arrowMark(PURPLE, 97, 55.2, 53.1)),
        scatter(NETS[0], PURPLE, 0, purplePairsA),
        scatter(NETS[1], BLUE, 0, fromRows(blueRowsA), 11, arrowMark(BLUE, 122, 55.2, 53.1)),
        scatter(NETS[1], BLUE, 0, bluePairsA),
        scatter(NETS[2], GREEN, 0, greenPairsA, 10, arrowMark(GREEN, 158, 54.6, 52.5)),
        scatter(NETS[3], YELLOW, 0, yellowPairsA),
        scatter(NETS[0], PURPLE, 2, fromRows(purpleRowsB), 12),
        scatter(NETS[0], PURPLE, 2, purplePairsB),
        scatter(NETS[1], BLUE, 2, fromRows(blueRowsB), 12),
        scatter(NETS[1], BLUE, 2, bluePairsB),
        scatter(NETS[2], GREEN, 2, greenPairsB),
        scatter(NETS[3], YELLOW, 2, yellowPairsB),
      ],
    });
    return () => inst.dispose();
  }, []);

  return <div ref={ref} style={{ position: "absolute", left: 0, top: 0, width: 980, height: 1476 }} />;
}
